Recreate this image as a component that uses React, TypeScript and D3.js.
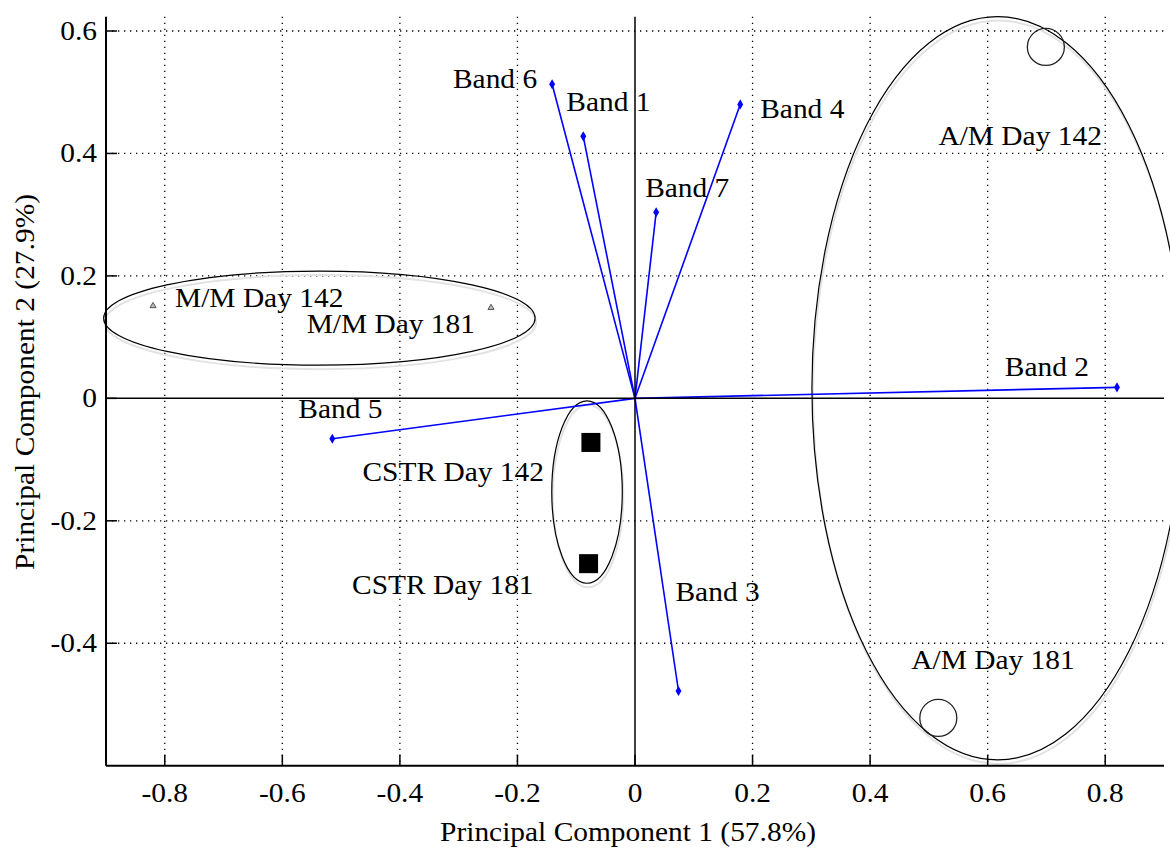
import React from "react";
import * as d3 from "d3";

// Loading vectors (PC1, PC2) for each spectral band
const bandNames = ["Band 1", "Band 2", "Band 3", "Band 4", "Band 5", "Band 6", "Band 7"];
const bandPC1 = [-0.088, 0.82, 0.074, 0.179, -0.515, -0.141, 0.036];
const bandPC2 = [0.428, 0.018, -0.478, 0.48, -0.066, 0.513, 0.304];

// Sample scores (PC1, PC2)
const sampleNames = ["M/M Day 142", "M/M Day 181", "CSTR Day 142", "CSTR Day 181", "A/M Day 142", "A/M Day 181"];
const samplePC1 = [-0.82, -0.245, -0.075, -0.079, 0.699, 0.516];
const samplePC2 = [0.151, 0.148, -0.072, -0.27, 0.574, -0.522];
const sampleKinds = ["triangle", "triangle", "square", "square", "circle", "circle"];

// Grouping ellipses: centre (PC1, PC2) and semi-axes in score units
const groupNames = ["M/M", "CSTR", "A/M"];
const groupCX = [-0.537, -0.0816, 0.617];
const groupCY = [0.131, -0.153, 0.0165];
const groupRX = [0.367, 0.06, 0.316];
const groupRY = [0.0768, 0.149, 0.607];

// Axis ticks
const xTicks = [-0.8, -0.6, -0.4, -0.2, 0, 0.2, 0.4, 0.6, 0.8];
const yTicks = [-0.4, -0.2, 0, 0.2, 0.4, 0.6];
const xTitle = "Principal Component 1 (57.8%)";
const yTitle = "Principal Component 2 (27.9%)";

// Label placement in pixels relative to the marked point
const bandLabelOffset: Record<string, [number, number, string]> = {
  "Band 1": [-17, -25, "start"],
  "Band 2": [-28, -11, "end"],
  "Band 3": [-3, -90, "start"],
  "Band 4": [20, 14, "start"],
  "Band 5": [-34, -21, "start"],
  "Band 6": [-15, 4, "end"],
  "Band 7": [-11, -15, "start"],
};
const sampleLabelOffset: Record<string, [number, number, string]> = {
  "M/M Day 142": [22, 1, "start"],
  "M/M Day 181": [-16, 25, "end"],
  "CSTR Day 142": [-47, 39, "end"],
  "CSTR Day 181": [-55, 30, "end"],
  "A/M Day 142": [56, 98, "end"],
  "A/M Day 181": [-27, -49, "start"],
};

const FONT = "'Liberation Serif', 'Times New Roman', serif";
const FS = 27;
const STRETCH = 1.09;

const left = 106;
const right = 1164;
const top = 16.7;
const bottom = 765.7;

const x = d3.scaleLinear().domain([-0.9, 0.9]).range([left, right]);
// 0.6 sits at 31px, -0.6 on the bottom axis
const y = d3.scaleLinear().domain([-0.6, 0.6]).range([bottom, 31]);

function Label({ px, py, text, anchor = "start", rotate = false }: { px: number; py: number; text: string; anchor?: string; rotate?: boolean }) {
  const t = rotate
    ? `translate(${px},${py}) rotate(-90) scale(${STRETCH},1)`
    : `translate(${px},${py}) scale(${STRETCH},1)`;
  return (
    <text transform={t} textAnchor={anchor as any} fontFamily={FONT} fontSize={FS} fill="#000">
      {text}
    </text>
  );
}

export default function App() {
  const x0 = x(0);
  const y0 = y(0);
  const lineGen = d3.line<[number, number]>().x((d) => x(d[0])).y((d) => y(d[1]));

  return (
    <svg width={1170} height={850} style={{ position: "absolute", left: 0, top: 0, background: "#fff" }}>
      <rect width={1170} height={850} fill="#fff" />

      {/* dotted grid */}
      <g stroke="#000" strokeWidth={1.3} strokeDasharray="1.3,4.7">
        {xTicks.filter((t) => t !== 0).map((t) => (
          <line key={"gx" + t} x1={x(t)} x2={x(t)} y1={top} y2={bottom} />
        ))}
        {yTicks.filter((t) => t !== 0).map((t) => (
          <line key={"gy" + t} x1={left} x2={right} y1={y(t)} y2={y(t)} />
        ))}
      </g>

      {/* grouping ellipses with soft shadow */}
      {groupNames.map((g, i) => {
        const cx = x(groupCX[i]);
        const cy = y(groupCY[i]);
        const rx = x(groupRX[i]) - x(0);
        const ry = y(0) - y(groupRY[i]);
        return (
          <g key={g} fill="none">
            <ellipse cx={cx + 1} cy={cy + 4} rx={rx} ry={ry} stroke="#e2e2e2" strokeWidth={2} />
            <ellipse cx={cx} cy={cy} rx={rx} ry={ry} stroke="#000" strokeWidth={1.2} />
          </g>
        );
      })}

      {/* band loading vectors */}
      {bandNames.map((b, i) => (
        <g key={b}>
          <path d={lineGen([[0, 0], [bandPC1[i], bandPC2[i]]]) || ""} stroke="#0000ff" strokeWidth={1.6} fill="none" />
          <path
            d={d3.symbol(d3.symbolDiamond, 30)() || ""}
            transform={`translate(${x(bandPC1[i])},${y(bandPC2[i])})`}
            fill="#0000ff"
          />
        </g>
      ))}

      {/* zero lines */}
      <line x1={x0} x2={x0} y1={top} y2={bottom} stroke="#000" strokeWidth={1.5} />
      <line x1={left} x2={right} y1={y0} y2={y0} stroke="#000" strokeWidth={1.5} />

      {/* sample scores */}
      {sampleNames.map((s, i) => {
        const px = x(samplePC1[i]);
        const py = y(samplePC2[i]);
        const k = sampleKinds[i];
        if (k === "square")
          return <rect key={s} x={px - 9.5} y={py - 9.5} width={19} height={19} fill="#000" />;
        if (k === "circle")
          return <circle key={s} cx={px} cy={py} r={18.5} fill="none" stroke="#222" strokeWidth={1.3} />;
        return (
          <path
            key={s}
            d={d3.symbol(d3.symbolTriangle, 16)() || ""}
            transform={`translate(${px},${py})`}
            fill="#bbb"
            stroke="#555"
            strokeWidth={1}
          />
        );
      })}

      {/* band labels */}
      {bandNames.map((b, i) => {
        const [dx, dy, a] = bandLabelOffset[b];
        return <Label key={"l" + b} px={x(bandPC1[i]) + dx} py={y(bandPC2[i]) + dy} text={b} anchor={a} />;
      })}

      {/* sample labels */}
      {sampleNames.map((s, i) => {
        const [dx, dy, a] = sampleLabelOffset[s];
        return <Label key={"l" + s} px={x(samplePC1[i]) + dx} py={y(samplePC2[i]) + dy} text={s} anchor={a} />;
      })}

      {/* axes */}
      <line x1={left} x2={left} y1={top} y2={bottom} stroke="#000" strokeWidth={2} />
      <line x1={left} x2={right} y1={bottom} y2={bottom} stroke="#000" strokeWidth={2} />
      {yTicks.map((t) => (
        <g key={"yt" + t}>
          <line x1={left} x2={left + 11} y1={y(t)} y2={y(t)} stroke="#000" strokeWidth={1.5} />
          <Label px={97} py={y(t) + 9} text={String(t)} anchor="end" />
        </g>
      ))}
      {xTicks.map((t) => (
        <g key={"xt" + t}>
          <line x1={x(t)} x2={x(t)} y1={bottom} y2={bottom - 11} stroke="#000" strokeWidth={1.5} />
          <Label px={x(t)} py={802} text={String(t)} anchor="middle" />
        </g>
      ))}

      <Label px={628} py={841} text={xTitle} anchor="middle" />
      <Label px={34} py={382} text={yTitle} anchor="middle" rotate />
    </svg>
  );
}
